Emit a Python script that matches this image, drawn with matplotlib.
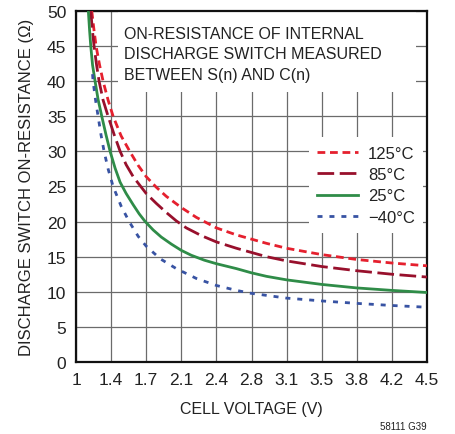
import matplotlib
matplotlib.use("Agg")
import matplotlib.pyplot as plt
from matplotlib.patches import Rectangle

plt.rcParams['font.family'] = ['Liberation Sans', 'DejaVu Sans']

# cell voltage (V) and on-resistance (ohm)
v_125 = [1.157, 1.18, 1.20, 1.235, 1.27, 1.32, 1.37, 1.45, 1.54, 1.62, 1.70, 1.80, 1.90, 2.05,
         2.20, 2.40, 2.60, 2.75, 2.90, 3.10, 3.45, 3.80, 4.15, 4.50]
r_125 = [50, 47.2, 45, 42.3, 40, 37.3, 35, 32.2, 29.9, 28.0, 26.4, 24.9, 23.6, 22.0,
         20.6, 19.1, 18.1, 17.5, 16.9, 16.2, 15.3, 14.6, 14.1, 13.7]

v_85 = [1.147, 1.163, 1.18, 1.205, 1.23, 1.27, 1.32, 1.38, 1.44, 1.50, 1.57, 1.64, 1.70, 1.80,
        1.90, 2.00, 2.10, 2.25, 2.40, 2.60, 2.75, 2.90, 3.10, 3.45, 3.80, 4.15, 4.50]
r_85 = [50, 47.3, 45, 42.3, 40, 37.3, 35, 32.4, 30, 28.1, 26.4, 25.1, 24.0, 22.6,
        21.3, 20.1, 19.1, 18.0, 17.1, 16.2, 15.6, 15.0, 14.4, 13.6, 13.0, 12.5, 12.1]

v_25 = [1.123, 1.135, 1.147, 1.165, 1.19, 1.22, 1.26, 1.30, 1.34, 1.39, 1.44, 1.50, 1.57, 1.63,
        1.69, 1.77, 1.85, 1.95, 2.05, 2.15, 2.28, 2.40, 2.60, 2.75, 2.90, 3.10, 3.45, 3.80, 4.15, 4.50]
r_25 = [50, 47.3, 45, 42.3, 40, 37.4, 34.8, 32.3, 30.0, 27.6, 25.6, 24.0, 22.4, 21.1,
        20.0, 18.8, 17.8, 16.8, 15.9, 15.2, 14.5, 14.0, 13.3, 12.7, 12.2, 11.7, 11.05, 10.55, 10.2, 9.9]

v_m40 = [1.165, 1.17, 1.195, 1.22, 1.25, 1.28, 1.32, 1.37, 1.45, 1.53, 1.62, 1.70, 1.84, 2.00,
         2.20, 2.40, 2.60, 2.74, 3.10, 3.45, 3.80, 4.15, 4.50]
r_m40 = [41, 40, 37.3, 35, 32.3, 30, 27.5, 25, 22.2, 20, 17.9, 16.5, 14.7, 13.3,
         11.9, 10.9, 10.2, 9.8, 9.1, 8.7, 8.35, 8.05, 7.8]

x_ticks = [1, 1.35, 1.7, 2.05, 2.4, 2.75, 3.1, 3.45, 3.8, 4.15, 4.5]
x_labels = ['1', '1.4', '1.7', '2.1', '2.4', '2.8', '3.1', '3.5', '3.8', '4.2', '4.5']
y_ticks = [0, 5, 10, 15, 20, 25, 30, 35, 40, 45, 50]

fig = plt.figure(figsize=(4.56, 4.35), dpi=100)
ax = fig.add_axes([0.1667, 0.1655, 0.7697, 0.807])

ax.set_axisbelow(True)
ax.grid(True, color='#6b6b6b', linewidth=0.9)

lw = 2.0
ax.plot(v_125, r_125, color='#e5202e', lw=lw, dashes=(2.8, 1.7), label='125°C', zorder=3)
ax.plot(v_85, r_85, color='#98102c', lw=lw, dashes=(6.0, 2.0), label='85°C', zorder=3)
ax.plot(v_25, r_25, color='#2f8c48', lw=lw, label='25°C', zorder=3)
ax.plot(v_m40, r_m40, color='#3853a3', lw=lw, dashes=(1.8, 2.5), label='\u221240°C', zorder=3)

ax.set_xlim(1, 4.5)
ax.set_ylim(0, 50)
ax.set_xticks(x_ticks)
ax.set_xticklabels(x_labels)
ax.set_yticks(y_ticks)
ax.tick_params(length=0, labelsize=12.5, colors='#222222', pad=7)

for s in ax.spines.values():
    s.set_linewidth(1.6)
    s.set_color('#111111')

# white panel behind the note
ax.add_patch(Rectangle((0.12, 0.769), 0.85, 0.231, transform=ax.transAxes,
                       facecolor='white', edgecolor='none', zorder=1))
ax.text(0.137, 0.957, 'ON-RESISTANCE OF INTERNAL\nDISCHARGE SWITCH MEASURED\nBETWEEN S(n) AND C(n)',
        transform=ax.transAxes, fontsize=11.5, va='top', ha='left', linespacing=1.45,
        color='#222222', zorder=4)

leg = ax.legend(loc='upper right', bbox_to_anchor=(0.989, 0.64), fontsize=12,
                frameon=True, facecolor='white', edgecolor='none', framealpha=1,
                fancybox=False, handlelength=2.45, handletextpad=0.6,
                labelspacing=0.38, borderpad=0.5, borderaxespad=0)
for t in leg.get_texts():
    t.set_color('#222222')

ax.set_xlabel('CELL VOLTAGE (V)', fontsize=11.5, color='#222222', labelpad=10)
ax.set_ylabel('DISCHARGE SWITCH ON-RESISTANCE (\u03a9)', fontsize=12, color='#222222', labelpad=9)

fig.text(0.936, 0.008, '58111 G39', fontsize=7, ha='right', va='bottom', color='#222222')

fig.savefig('out.png', dpi=100)
